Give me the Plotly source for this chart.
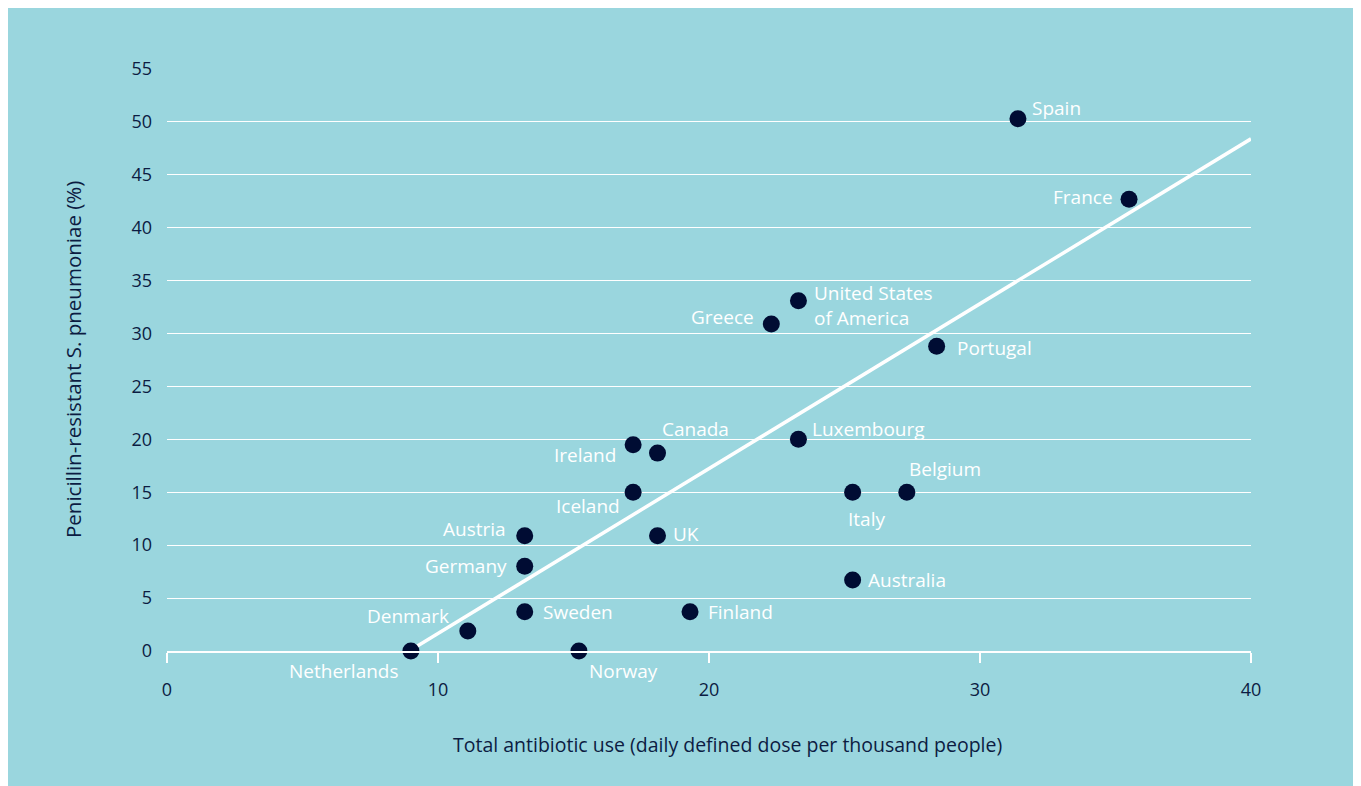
import plotly.graph_objects as go

# ---- data ----
countries = ["Netherlands", "Denmark", "Norway", "Sweden", "Germany", "Austria",
             "Iceland", "UK", "Finland", "Ireland", "Canada", "Greece",
             "United States<br>of America", "Luxembourg", "Portugal", "Italy",
             "Belgium", "Australia", "Spain", "France"]
antibiotic_use = [9.0, 11.1, 15.2, 13.2, 13.2, 13.2,
                  17.2, 18.1, 19.3, 17.2, 18.1, 22.3,
                  23.3, 23.3, 28.4, 25.3,
                  27.3, 25.3, 31.4, 35.5]
resistance = [0.0, 1.9, 0.0, 3.7, 8.0, 10.9,
              15.0, 10.9, 3.7, 19.5, 18.7, 30.9,
              33.1, 20.0, 28.8, 15.0,
              15.0, 6.7, 50.3, 42.7]

fit_x = [9.0, 40.0]
fit_y = [0.1, 48.4]

x_ticks = [0, 10, 20, 30, 40]
y_ticks = [0, 5, 10, 15, 20, 25, 30, 35, 40, 45, 50, 55]

# ---- label placement (style only) ----
# (xanchor, x pixel shift, y pixel shift)
label_pos = {
    "Netherlands": ("right", -10, -20),
    "Denmark": ("right", -17, 15),
    "Norway": ("left", 8, -20),
    "Sweden": ("left", 16, 0),
    "Germany": ("right", -16, 0),
    "Austria": ("right", -17, 7),
    "Iceland": ("right", -11, -14),
    "UK": ("left", 13, 2),
    "Finland": ("left", 16, 0),
    "Ireland": ("right", -15, -10),
    "Canada": ("left", 2, 24),
    "Greece": ("right", -15, 7),
    "United States<br>of America": ("left", 14, -5),
    "Luxembourg": ("left", 12, 10),
    "Portugal": ("left", 18, -2),
    "Italy": ("center", 14, -27),
    "Belgium": ("left", 0, 23),
    "Australia": ("left", 13, 0),
    "Spain": ("left", 12, 11),
    "France": ("right", -14, 2),
}

BG = "#9ad6de"
NAVY = "#000c33"
TXT = "#0c1c42"
FONT = "Open Sans"

fig = go.Figure()

fig.add_trace(go.Scatter(
    x=fit_x, y=fit_y, mode="lines",
    line=dict(color="white", width=3.5),
    hoverinfo="skip", showlegend=False, cliponaxis=False,
))

fig.add_trace(go.Scatter(
    x=antibiotic_use, y=resistance, mode="markers",
    marker=dict(color=NAVY, size=17, line=dict(width=0)),
    text=countries, hoverinfo="text+x+y",
    showlegend=False, cliponaxis=False,
))

for name, xv, yv in zip(countries, antibiotic_use, resistance):
    anchor, dx, dy = label_pos[name]
    fig.add_annotation(
        x=xv, y=yv, xref="x", yref="y", text=name, showarrow=False,
        xanchor=anchor, yanchor="middle", xshift=dx, yshift=dy,
        align="left", font=dict(family=FONT, size=19, color="white"),
    )

fig.add_annotation(
    text="Total antibiotic use (daily defined dose per thousand people)",
    xref="paper", yref="paper", x=0.5, y=0, xshift=18, yshift=-93,
    xanchor="center", yanchor="middle", showarrow=False,
    font=dict(family=FONT, size=19.5, color=TXT),
)
fig.add_annotation(
    text="Penicillin-resistant S. pneumoniae (%)",
    xref="paper", yref="paper", x=0, y=0.5, xshift=-94, yshift=0,
    xanchor="center", yanchor="middle", textangle=-90, showarrow=False,
    font=dict(family=FONT, size=20.5, color=TXT),
)

fig.update_xaxes(
    range=[0, 40], tickvals=x_ticks, ticktext=[str(v) for v in x_ticks],
    showgrid=False, zeroline=False,
    showline=True, linecolor="white", linewidth=2,
    ticks="outside", ticklen=10, tickwidth=2, tickcolor="white",
    ticklabelstandoff=11,
    tickfont=dict(family=FONT, size=18, color=TXT),
)
fig.update_yaxes(
    range=[0, 55], tickvals=y_ticks, ticktext=[str(v) for v in y_ticks],
    showgrid=True, gridcolor="white", gridwidth=1.2,
    zeroline=False, showline=False, ticks="",
    ticklabelstandoff=14,
    tickfont=dict(family=FONT, size=18, color=TXT),
)

fig.update_layout(
    width=1353, height=780,
    paper_bgcolor=BG, plot_bgcolor=BG,
    margin=dict(l=159, r=110, t=61, b=137),
    font=dict(family=FONT, color=TXT),
    hovermode="closest",
)

fig.write_html("out.html")
